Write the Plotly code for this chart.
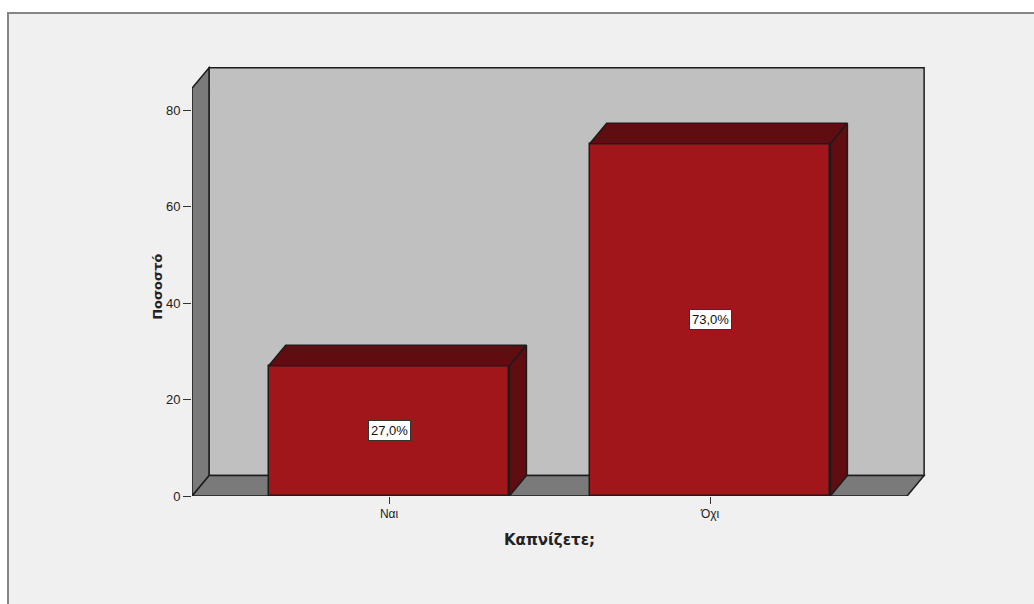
import plotly.graph_objects as go

# Survey result: "Do you smoke?" (percent of respondents)
categories = ["Ναι", "Όχι"]
percent = [27.0, 73.0]
y_ticks = [0, 20, 40, 60, 80]

# Look of the pseudo-3D frame
BAR_W = 0.75          # bar width in category units
DX = 0.053            # depth offset along x (data units)
DY = 4.25             # depth offset along y (data units)
X0, X1 = -0.614, 1.614  # front edge of the floor
WALL_H = 84.5           # height of the side wall (front plane)

FRONT = "#a0161a"
DARK = "#5f0d10"
EDGE = "#1c1c1c"
WALL_BACK = "#c0c0c0"
WALL_SIDE = "#7a7a7a"
FONT = "Liberation Sans, Arial, sans-serif"
TITLE_FONT = "DejaVu Sans, Verdana, sans-serif"

xpos = list(range(len(categories)))

fig = go.Figure()

# front faces of the bars
fig.add_trace(go.Bar(
    x=xpos, y=percent, width=BAR_W,
    marker=dict(color=FRONT, line=dict(color=EDGE, width=1.5)),
    hoverinfo="skip", showlegend=False,
))

# top and right side faces of each bar
for xc, v in zip(xpos, percent):
    l, r = xc - BAR_W / 2, xc + BAR_W / 2
    top_x = [l, r, r + DX, l + DX, l]
    top_y = [v, v, v + DY, v + DY, v]
    side_x = [r, r + DX, r + DX, r, r]
    side_y = [0, DY, v + DY, v, 0]
    for px, py in ((top_x, top_y), (side_x, side_y)):
        fig.add_trace(go.Scatter(
            x=px, y=py, mode="lines", fill="toself", fillcolor=DARK,
            line=dict(color=EDGE, width=1.5), hoverinfo="skip", showlegend=False,
        ))

# walls and floor of the box, behind the bars
shapes = [
    # outer panel
    dict(type="rect", xref="paper", yref="paper",
         x0=(8 - 192) / 738, x1=1.6, y0=-0.6, y1=(496 - 13) / 436,
         fillcolor="#f0f0f0", line=dict(color="#858585", width=2), layer="below"),
    # back wall
    dict(type="rect", xref="x", yref="y",
         x0=X0 + DX, x1=X1 + DX, y0=DY, y1=WALL_H + DY,
         fillcolor=WALL_BACK, line=dict(color=EDGE, width=1.5), layer="below"),
    # floor
    dict(type="path", xref="x", yref="y",
         path=f"M {X0} 0 L {X1} 0 L {X1 + DX} {DY} L {X0 + DX} {DY} Z",
         fillcolor=WALL_SIDE, line=dict(color=EDGE, width=1.5), layer="below"),
    # left wall
    dict(type="path", xref="x", yref="y",
         path=f"M {X0} 0 L {X0 + DX} {DY} L {X0 + DX} {WALL_H + DY} L {X0} {WALL_H} Z",
         fillcolor=WALL_SIDE, line=dict(color=EDGE, width=1.5), layer="below"),
]

annotations = []
for xc, v in zip(xpos, percent):
    annotations.append(dict(
        x=xc, y=v / 2, xref="x", yref="y",
        text=f"{v:.1f}%".replace(".", ","), showarrow=False,
        font=dict(family=FONT, size=13, color="#111"),
        bgcolor="white", bordercolor="#333", borderwidth=1, borderpad=2,
    ))

# axis titles
annotations.append(dict(
    x=0.5, xref="x", y=0, yref="paper", yshift=-44, yanchor="middle",
    text="<b>Καπνίζετε;</b>", showarrow=False,
    font=dict(family=TITLE_FONT, size=15, color="#222"),
))
annotations.append(dict(
    x=0, xref="paper", xshift=-44, y=WALL_H / 2 + 1, yref="y",
    text="<b>Ποσοστό</b>", textangle=-90, showarrow=False,
    font=dict(family=TITLE_FONT, size=13, color="#222"),
))

fig.update_layout(
    width=1034, height=604,
    margin=dict(l=192, r=104, t=60, b=108, pad=0),
    paper_bgcolor="white", plot_bgcolor="rgba(0,0,0,0)",
    shapes=shapes, annotations=annotations,
    bargap=0,
    xaxis=dict(
        range=[X0, (930 - 389) / 321], tickmode="array", tickvals=xpos,
        ticktext=categories, ticks="outside", ticklen=7, tickwidth=1,
        tickcolor="#333", showgrid=False, zeroline=False, showline=False,
        tickfont=dict(family=FONT, size=12, color="#222"), fixedrange=True,
    ),
    yaxis=dict(
        range=[0, 436 / 4.825], tickmode="array", tickvals=y_ticks,
        ticks="outside", ticklen=8, tickwidth=1, tickcolor="#333",
        showgrid=False, zeroline=False, showline=False,
        tickfont=dict(family=FONT, size=13, color="#222"), fixedrange=True,
    ),
)

fig.write_html("out.html")
